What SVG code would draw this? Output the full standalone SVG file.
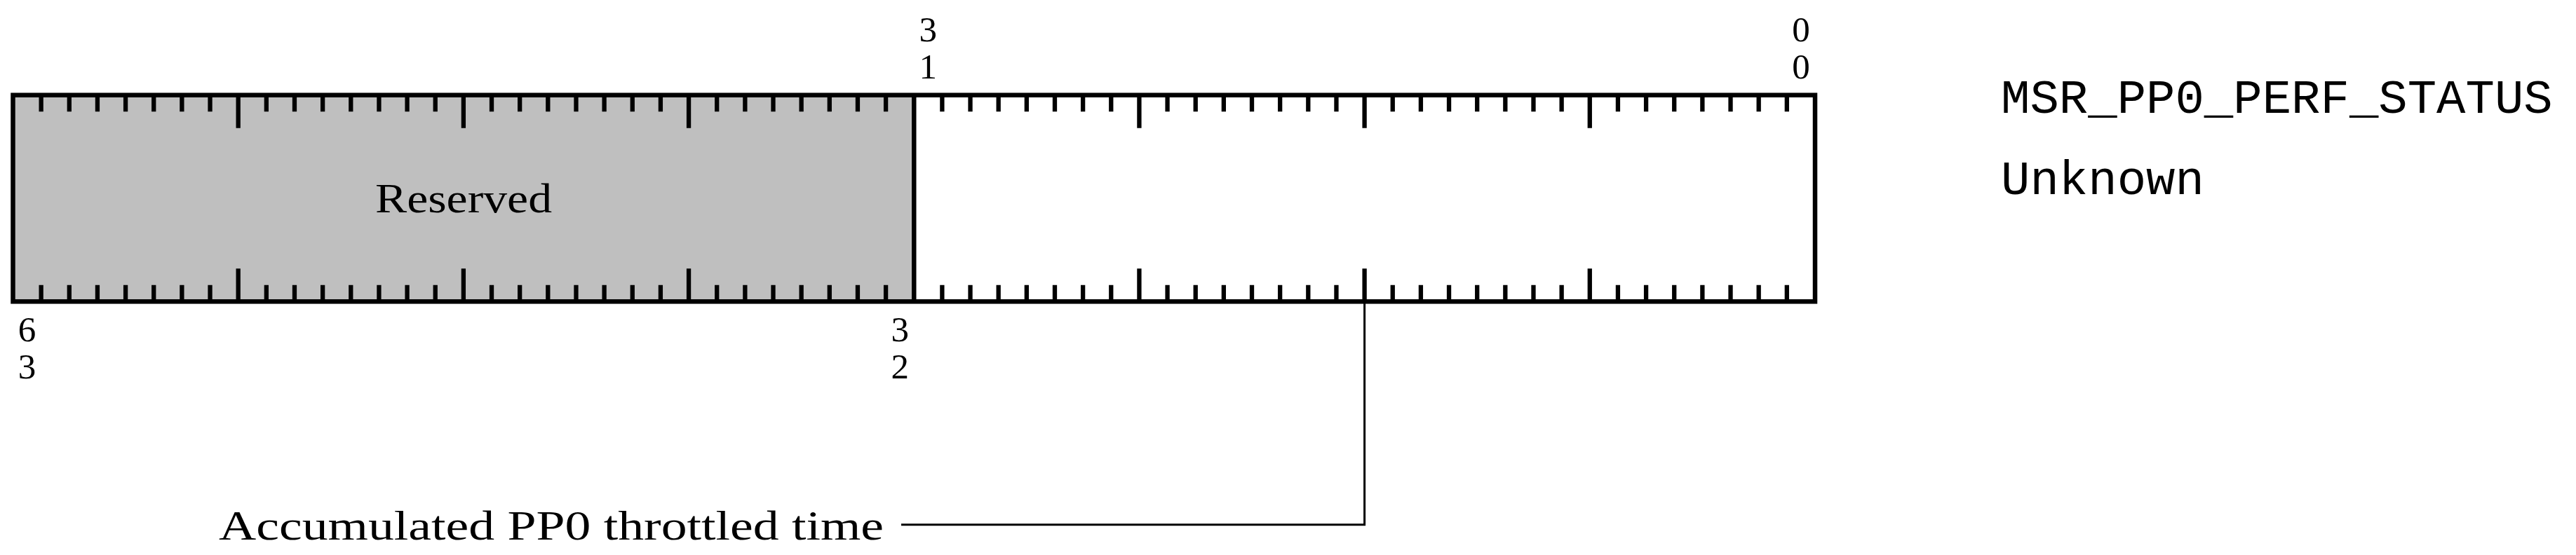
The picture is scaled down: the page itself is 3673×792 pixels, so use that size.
<svg xmlns="http://www.w3.org/2000/svg" width="3673" height="792" viewBox="0 0 3673 792">
<style>
.edge{fill:none;stroke:#000;stroke-width:6.5;stroke-linejoin:miter}
.tick{fill:none;stroke:#000;stroke-width:6.3;stroke-linecap:butt}
.conn{fill:none;stroke:#000;stroke-width:3}
.num{font-family:"Liberation Serif","Times New Roman",serif;font-size:51px;fill:#000;text-anchor:middle}
.lbl{font-family:"Liberation Serif","Times New Roman",serif;font-size:60px;fill:#000}
.tt{font-family:"Liberation Mono","Courier New",monospace;font-size:69px;fill:#000}
</style>
<rect x="0" y="0" width="3673" height="792" fill="#fff"/>
<g id="register">
<g id="field-reserved">
<rect x="18.5" y="135.7" width="1284.74" height="294.6" fill="#bfbfbf"/>
<text class="lbl" x="535" y="303" textLength="252" lengthAdjust="spacingAndGlyphs">Reserved</text>
</g>
<g id="field-throttled">
<rect x="1303.24" y="135.7" width="1284.76" height="294.6" fill="#fff"/>
</g>
<path id="ticks-top" class="tick" d="M58.65 135.7v23.5M98.8 135.7v23.5M138.94 135.7v23.5M179.09 135.7v23.5M219.24 135.7v23.5M259.39 135.7v23.5M299.54 135.7v23.5M339.68 135.7v47M379.83 135.7v23.5M419.98 135.7v23.5M460.13 135.7v23.5M500.28 135.7v23.5M540.42 135.7v23.5M580.57 135.7v23.5M620.72 135.7v23.5M660.87 135.7v47M701.02 135.7v23.5M741.16 135.7v23.5M781.31 135.7v23.5M821.46 135.7v23.5M861.61 135.7v23.5M901.76 135.7v23.5M941.9 135.7v23.5M982.05 135.7v47M1022.2 135.7v23.5M1062.35 135.7v23.5M1102.5 135.7v23.5M1142.64 135.7v23.5M1182.79 135.7v23.5M1222.94 135.7v23.5M1263.09 135.7v23.5M1343.38 135.7v23.5M1383.53 135.7v23.5M1423.68 135.7v23.5M1463.83 135.7v23.5M1503.98 135.7v23.5M1544.12 135.7v23.5M1584.27 135.7v23.5M1624.42 135.7v47M1664.57 135.7v23.5M1704.72 135.7v23.5M1744.86 135.7v23.5M1785.01 135.7v23.5M1825.16 135.7v23.5M1865.31 135.7v23.5M1905.46 135.7v23.5M1945.6 135.7v47M1985.75 135.7v23.5M2025.9 135.7v23.5M2066.05 135.7v23.5M2106.2 135.7v23.5M2146.34 135.7v23.5M2186.49 135.7v23.5M2226.64 135.7v23.5M2266.79 135.7v47M2306.94 135.7v23.5M2347.08 135.7v23.5M2387.23 135.7v23.5M2427.38 135.7v23.5M2467.53 135.7v23.5M2507.68 135.7v23.5M2547.82 135.7v23.5"/>
<path id="ticks-bottom" class="tick" d="M58.65 430.3v-23.5M98.8 430.3v-23.5M138.94 430.3v-23.5M179.09 430.3v-23.5M219.24 430.3v-23.5M259.39 430.3v-23.5M299.54 430.3v-23.5M339.68 430.3v-47M379.83 430.3v-23.5M419.98 430.3v-23.5M460.13 430.3v-23.5M500.28 430.3v-23.5M540.42 430.3v-23.5M580.57 430.3v-23.5M620.72 430.3v-23.5M660.87 430.3v-47M701.02 430.3v-23.5M741.16 430.3v-23.5M781.31 430.3v-23.5M821.46 430.3v-23.5M861.61 430.3v-23.5M901.76 430.3v-23.5M941.9 430.3v-23.5M982.05 430.3v-47M1022.2 430.3v-23.5M1062.35 430.3v-23.5M1102.5 430.3v-23.5M1142.64 430.3v-23.5M1182.79 430.3v-23.5M1222.94 430.3v-23.5M1263.09 430.3v-23.5M1343.38 430.3v-23.5M1383.53 430.3v-23.5M1423.68 430.3v-23.5M1463.83 430.3v-23.5M1503.98 430.3v-23.5M1544.12 430.3v-23.5M1584.27 430.3v-23.5M1624.42 430.3v-47M1664.57 430.3v-23.5M1704.72 430.3v-23.5M1744.86 430.3v-23.5M1785.01 430.3v-23.5M1825.16 430.3v-23.5M1865.31 430.3v-23.5M1905.46 430.3v-23.5M1945.6 430.3v-47M1985.75 430.3v-23.5M2025.9 430.3v-23.5M2066.05 430.3v-23.5M2106.2 430.3v-23.5M2146.34 430.3v-23.5M2186.49 430.3v-23.5M2226.64 430.3v-23.5M2266.79 430.3v-47M2306.94 430.3v-23.5M2347.08 430.3v-23.5M2387.23 430.3v-23.5M2427.38 430.3v-23.5M2467.53 430.3v-23.5M2507.68 430.3v-23.5M2547.82 430.3v-23.5"/>
<path id="divider" class="edge" d="M1303.24 135.7V430.3"/>
<rect id="outline" class="edge" x="18.5" y="135.7" width="2569.5" height="294.6"/>
</g>
<g id="bit-labels">
<text class="num" x="1323.3" y="59">3</text>
<text class="num" x="1323.3" y="112">1</text>
<text class="num" x="2567.9" y="59">0</text>
<text class="num" x="2567.9" y="112">0</text>
<text class="num" x="38.6" y="487">6</text>
<text class="num" x="38.6" y="540">3</text>
<text class="num" x="1283.2" y="487">3</text>
<text class="num" x="1283.2" y="540">2</text>
</g>
<g id="connectors">
<path class="conn" d="M1945.6 430.3V748.7H1285"/>
</g>
<g id="annotation">
<text class="lbl" x="312" y="770" font-size="63" textLength="948" lengthAdjust="spacingAndGlyphs">Accumulated PP0 throttled time</text>
</g>
<g id="title">
<text class="tt" x="2853" y="161">MSR_PP0_PERF_STATUS</text>
<text class="tt" x="2853" y="277">Unknown</text>
</g>
</svg>
